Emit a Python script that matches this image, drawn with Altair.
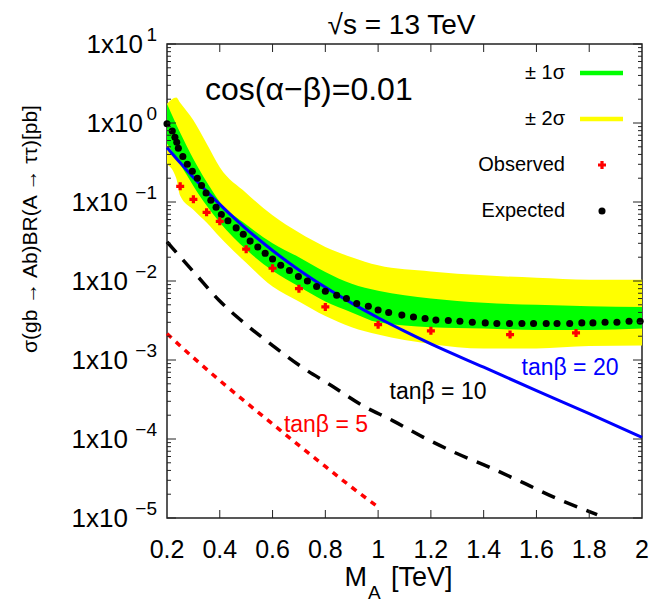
import altair as alt
import pandas as pd

# ---------------- data ----------------
# Expected limit (black dots)
exp_m = [0.2, 0.22, 0.23, 0.237, 0.243, 0.26, 0.277, 0.296, 0.315, 0.331,
         0.348, 0.366, 0.386, 0.406, 0.431, 0.462, 0.489, 0.515, 0.544, 0.572,
         0.6, 0.631, 0.664, 0.698, 0.732, 0.767, 0.80, 0.843, 0.88, 0.919,
         0.963, 1.0, 1.04, 1.09, 1.134, 1.178, 1.219, 1.266, 1.31, 1.357,
         1.406, 1.45, 1.498, 1.545, 1.589, 1.637, 1.678, 1.726, 1.772, 1.814,
         1.86, 1.905, 1.951, 1.993]
exp_v = [0.98, 0.79, 0.66, 0.57, 0.48, 0.377, 0.30, 0.245, 0.20, 0.162,
         0.13, 0.105, 0.086, 0.0695, 0.058, 0.047, 0.039, 0.032, 0.027, 0.0224,
         0.019, 0.0158, 0.0136, 0.0114, 0.010, 0.0085, 0.0074, 0.0066, 0.006, 0.0052,
         0.0048, 0.0043, 0.0040, 0.0037, 0.0035, 0.00335, 0.0032, 0.00316, 0.0031, 0.0030,
         0.00295, 0.0029, 0.0029, 0.0029, 0.0029, 0.0029, 0.0029, 0.0029, 0.00295, 0.00295,
         0.0030, 0.0030, 0.0031, 0.0031]

# Observed limit (red crosses)
obs_m = [0.25, 0.3, 0.35, 0.4, 0.5, 0.6, 0.7, 0.8, 1.0, 1.2, 1.5, 1.75]
obs_v = [0.158, 0.108, 0.074, 0.057, 0.0253, 0.0145, 0.008, 0.0047, 0.0028, 0.00234, 0.0021, 0.0022]

# +-1 sigma band (green)
g_m = [0.2, 0.25, 0.3, 0.35, 0.4, 0.5, 0.6, 0.7, 0.8, 0.9, 1.0, 1.2, 1.4, 1.6, 1.8, 2.0]
g_hi = [1.75, 0.75, 0.35, 0.18, 0.10, 0.052, 0.030, 0.020, 0.013, 0.0092, 0.0075, 0.0060, 0.0053, 0.0050, 0.0048, 0.0047]
g_lo = [0.55, 0.30, 0.16, 0.090, 0.055, 0.025, 0.0135, 0.0085, 0.0055, 0.0040, 0.0030, 0.0026, 0.0025, 0.0024, 0.0024, 0.0025]

# +-2 sigma band (yellow)
y_m = [0.2, 0.235, 0.25, 0.3, 0.35, 0.4, 0.5, 0.6, 0.7, 0.8, 0.9, 1.0, 1.2, 1.4, 1.6, 1.8, 2.0]
y_hi = [1.75, 2.1, 1.8, 1.08, 0.55, 0.275, 0.13, 0.068, 0.041, 0.027, 0.020, 0.0158, 0.0132, 0.0118, 0.011, 0.0104, 0.0104]
y_lo = [0.30, 0.20, 0.12, 0.08, 0.055, 0.036, 0.017, 0.0085, 0.0055, 0.0036, 0.0026, 0.0021, 0.0016, 0.0014, 0.0014, 0.0015, 0.00153]

# Theory curves
t20_m = [0.2, 0.25, 0.3, 0.35, 0.4, 0.5, 0.6, 0.7, 0.8, 0.9, 1.0, 1.1, 1.2, 1.4, 1.6, 1.8, 2.0]
t20_v = [0.49, 0.313, 0.204, 0.1365, 0.0933, 0.0457, 0.0243, 0.0138, 0.00832, 0.00525,
         0.00343, 0.00232, 0.0016, 8.1e-4, 4.1e-4, 2.1e-4, 1.05e-4]
t10_m = [0.2, 0.22, 0.313, 0.398, 0.496, 0.603, 0.711, 0.821, 0.941, 1.055, 1.172,
         1.301, 1.421, 1.545, 1.671, 1.791, 1.83]
t10_v = [0.0313, 0.0263, 0.01175, 0.00566, 0.00288, 0.0015, 8.13e-4, 4.79e-4, 2.65e-4,
         1.71e-4, 1.05e-4, 6.5e-5, 4.4e-5, 2.84e-5, 1.80e-5, 1.24e-5, 1.1e-5]
t5_m = [0.2, 0.3, 0.4, 0.5, 0.6, 0.7, 0.8, 0.9, 1.0]
t5_v = [2.15e-3, 1.07e-3, 5.5e-4, 2.9e-4, 1.55e-4, 8.3e-5, 4.5e-5, 2.45e-5, 1.38e-5]

# Axis ticks / labels
x_ticks = [0.2, 0.4, 0.6, 0.8, 1.0, 1.2, 1.4, 1.6, 1.8, 2.0]
x_labels = ["0.2", "0.4", "0.6", "0.8", "1", "1.2", "1.4", "1.6", "1.8", "2"]
y_ticks = [10, 1, 0.1, 0.01, 0.001, 0.0001, 0.00001]
y_exps = ["1", "0", "\u22121", "\u22122", "\u22123", "\u22124", "\u22125"]
y_minor = [m * 10.0 ** k for k in range(-5, 1) for m in range(2, 10)]

# ---------------- chart ----------------
W, H = 475, 474
FONT = "Liberation Sans"
FRAME = "#222222"

xs = alt.Scale(domain=[0.2, 2.0], nice=False, zero=False)
ys = alt.Scale(type="log", domain=[1e-5, 10], nice=False)

def X(f):
    return alt.X(f, type="quantitative", scale=xs, axis=None)

def Y(f):
    return alt.Y(f, type="quantitative", scale=ys, axis=None)

one = pd.DataFrame({"a": [0]})

yellow = alt.Chart(pd.DataFrame({"m": y_m, "lo": y_lo, "hi": y_hi})).mark_area(
    color="#ffff00", opacity=1, interpolate="monotone"
).encode(x=X("m"), y=Y("lo"), y2="hi")

green = alt.Chart(pd.DataFrame({"m": g_m, "lo": g_lo, "hi": g_hi})).mark_area(
    color="#00ff00", opacity=1, interpolate="monotone"
).encode(x=X("m"), y=Y("lo"), y2="hi")

l20 = alt.Chart(pd.DataFrame({"m": t20_m, "v": t20_v})).mark_line(
    color="#0000ff", strokeWidth=3, interpolate="monotone"
).encode(x=X("m"), y=Y("v"))
l10 = alt.Chart(pd.DataFrame({"m": t10_m, "v": t10_v})).mark_line(
    color="#000000", strokeWidth=3.5, strokeDash=[14, 10], interpolate="monotone"
).encode(x=X("m"), y=Y("v"))
l5 = alt.Chart(pd.DataFrame({"m": t5_m, "v": t5_v})).mark_line(
    color="#ff0000", strokeWidth=3.5, strokeDash=[6, 6], interpolate="monotone"
).encode(x=X("m"), y=Y("v"))

expected = alt.Chart(pd.DataFrame({"m": exp_m, "v": exp_v})).mark_point(
    shape="circle", filled=True, color="#000000", size=50, opacity=1
).encode(x=X("m"), y=Y("v"))
observed = alt.Chart(pd.DataFrame({"m": obs_m, "v": obs_v})).mark_point(
    shape="cross", filled=True, color="#ff0000", size=64, opacity=1
).encode(x=X("m"), y=Y("v"))

# ticks (inward, mirrored like the original)
df_yt = pd.DataFrame({"v": y_ticks})
df_ym = pd.DataFrame({"v": y_minor})
df_xt = pd.DataFrame({"m": x_ticks[1:-1]})
tick_layers = [
    alt.Chart(df_yt).mark_rule(color=FRAME, strokeWidth=1).encode(y=Y("v"), x=alt.value(0), x2=alt.value(9)),
    alt.Chart(df_yt).mark_rule(color=FRAME, strokeWidth=1).encode(y=Y("v"), x=alt.value(W), x2=alt.value(W - 9)),
    alt.Chart(df_ym).mark_rule(color=FRAME, strokeWidth=1).encode(y=Y("v"), x=alt.value(0), x2=alt.value(4)),
    alt.Chart(df_ym).mark_rule(color=FRAME, strokeWidth=1).encode(y=Y("v"), x=alt.value(W), x2=alt.value(W - 4)),
    alt.Chart(df_xt).mark_rule(color=FRAME, strokeWidth=1).encode(x=X("m"), y=alt.value(H), y2=alt.value(H - 8)),
    alt.Chart(df_xt).mark_rule(color=FRAME, strokeWidth=1).encode(x=X("m"), y=alt.value(0), y2=alt.value(8)),
]

# tick labels
df_xl = pd.DataFrame({"m": x_ticks, "t": x_labels})
xlab = alt.Chart(df_xl).mark_text(
    font=FONT, fontSize=25, align="center", baseline="alphabetic", color="#000"
).encode(x=X("m"), y=alt.value(H + 40), text="t:N")

df_yl = pd.DataFrame({"v": y_ticks, "e": y_exps})
df_yl["bx"] = [-10 - (14 if len(e) == 1 else 29) for e in y_exps]
ylab_base = alt.Chart(df_yl).mark_text(
    font=FONT, fontSize=26, align="right", baseline="alphabetic", dy=9, text="1x10", color="#000"
).encode(y=Y("v"), x=alt.X("bx:Q", scale=None, axis=None))
ylab_sup = alt.Chart(df_yl).mark_text(
    font=FONT, fontSize=19, align="right", baseline="alphabetic", dy=-3, color="#000"
).encode(y=Y("v"), x=alt.value(-10), text="e:N")

def txt(s, x, y, size, color="#000", align="center", baseline="alphabetic", angle=0):
    kw = dict(font=FONT, fontSize=size, color=color, align=align, baseline=baseline, text=s)
    if angle:
        kw["angle"] = angle
    return alt.Chart(one).mark_text(**kw).encode(x=alt.value(x), y=alt.value(y))

texts = [
    txt("\u221as = 13 TeV", W / 2 - 3, -10, 28),
    txt("cos(\u03b1\u2212\u03b2)=0.01", 38, 56, 32, align="left"),
    txt("\u03c3(gb \u2192 Ab)BR(A \u2192 \u03c4\u03c4)[pb]", -136, 185, 21, baseline="middle", angle=270),
    txt("M", 200, H + 68, 27, align="right"),
    txt("A", 201, H + 81, 19, align="left"),
    txt("[TeV]", 224, H + 68, 27, align="left"),
    txt("tan\u03b2 = 20", 403, 324, 23, color="#0000ff", baseline="middle"),
    txt("tan\u03b2 = 10", 271, 348, 23, color="#000000", baseline="middle"),
    txt("tan\u03b2 = 5", 159, 381, 23, color="#ff0000", baseline="middle"),
    # legend
    txt("\u00b1 1\u03c3", 398, 29, 20, align="right", baseline="middle"),
    txt("\u00b1 2\u03c3", 398, 75, 20, align="right", baseline="middle"),
    txt("Observed", 398, 121, 20, align="right", baseline="middle"),
    txt("Expected", 398, 167, 20, align="right", baseline="middle"),
]

legend_marks = [
    alt.Chart(one).mark_rule(color="#00ff00", strokeWidth=4.5).encode(
        x=alt.value(413), x2=alt.value(456), y=alt.value(29)),
    alt.Chart(one).mark_rule(color="#ffff00", strokeWidth=4.5).encode(
        x=alt.value(413), x2=alt.value(456), y=alt.value(75)),
    alt.Chart(one).mark_point(shape="cross", filled=True, color="#ff0000", size=64, opacity=1).encode(
        x=alt.value(435), y=alt.value(121)),
    alt.Chart(one).mark_point(shape="circle", filled=True, color="#000000", size=50, opacity=1).encode(
        x=alt.value(435), y=alt.value(167)),
]

chart = alt.layer(
    yellow, green, l20, l10, l5, expected, observed,
    *tick_layers, xlab, ylab_base, ylab_sup, *texts, *legend_marks
).properties(
    width=W, height=H,
    autosize=alt.AutoSizeParams(type="none"),
    padding={"left": 159, "top": 36, "right": 9, "bottom": 90},
    background="white",
).configure_view(
    stroke=FRAME, strokeWidth=1.5
)

chart.save("out.html", embed_options={"renderer": "svg", "actions": False})
